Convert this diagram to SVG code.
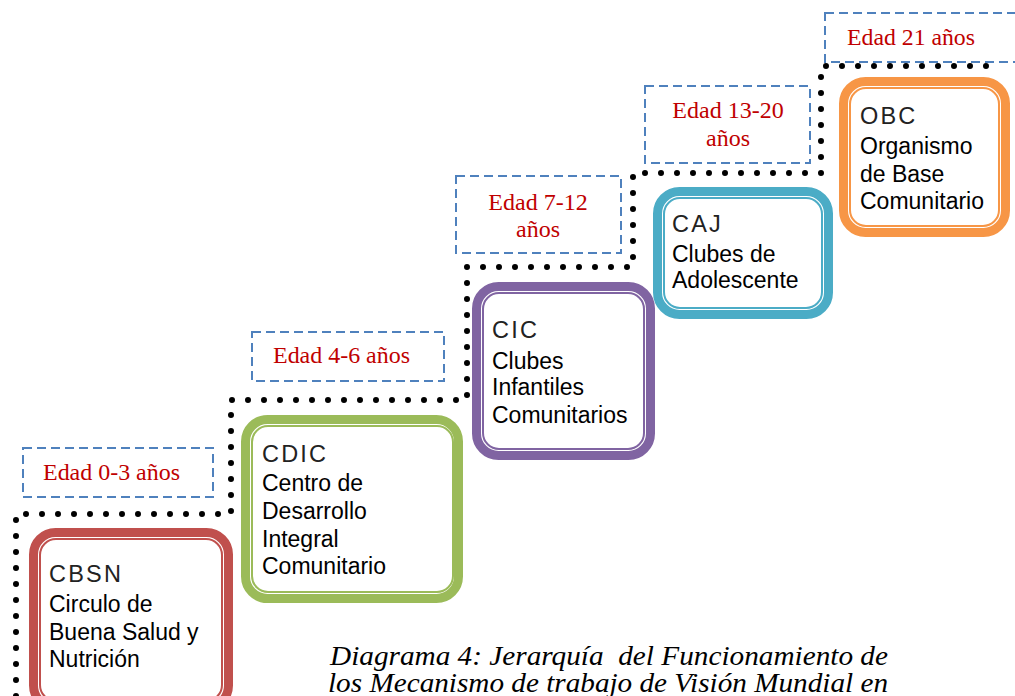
<svg xmlns="http://www.w3.org/2000/svg" width="1015" height="696" viewBox="0 0 1015 696">
<style>
.outer{fill:#fff;stroke-width:9}
.inner{fill:none;stroke-width:2}
.t{font-family:"Liberation Sans",Arial,sans-serif;font-size:23px;fill:#000}
.h{font-family:"Liberation Sans",Arial,sans-serif;font-size:23.5px;fill:#222;letter-spacing:2.2px}
.age{fill:none;stroke:#4F81BD;stroke-width:2;stroke-dasharray:9 5}
.at{font-family:"Liberation Serif","Times New Roman",serif;font-size:24px;fill:#C00000}
.cap{font-family:"Liberation Serif","Times New Roman",serif;font-style:italic;font-size:27px;fill:#000}
.dots{fill:none;stroke:#000;stroke-width:6;stroke-linecap:round;stroke-dasharray:0 16}
</style>
<rect width="1015" height="696" fill="#fff"/>
<g id="connectors">
<path class="dots" d="M16,696 V514 H231 V400 H467 V267 H633 V173 H821 V66 H1000"/>
</g>
<g id="age1">
<rect class="age" x="23" y="448" width="190" height="49"/>
<text class="at" x="43" y="480" textLength="137" lengthAdjust="spacingAndGlyphs">Edad 0-3 años</text>
</g>
<g id="age2">
<rect class="age" x="252" y="332" width="192" height="49"/>
<text class="at" x="273" y="363" textLength="137" lengthAdjust="spacingAndGlyphs">Edad 4-6 años</text>
</g>
<g id="age3">
<rect class="age" x="456" y="176" width="165" height="77"/>
<text class="at" x="538" y="210" text-anchor="middle">Edad 7-12</text>
<text class="at" x="538" y="237" text-anchor="middle">años</text>
</g>
<g id="age4">
<rect class="age" x="645" y="86" width="165" height="77"/>
<text class="at" x="728" y="118" text-anchor="middle">Edad 13-20</text>
<text class="at" x="728" y="146" text-anchor="middle">años</text>
</g>
<g id="age5">
<rect class="age" x="825" y="13" width="200" height="49"/>
<text class="at" x="847" y="45" textLength="128" lengthAdjust="spacingAndGlyphs">Edad 21 años</text>
</g>
<g id="cbsn">
<rect class="outer" x="33.5" y="532.5" width="195" height="175" rx="22" stroke="#C0504D"/>
<rect class="inner" x="40" y="539" width="182" height="162" rx="16" stroke="#C0504D"/>
<text class="h" x="49" y="582">CBSN</text>
<text class="t" x="49" y="612">Circulo de</text>
<text class="t" x="49" y="640">Buena Salud y</text>
<text class="t" x="49" y="667">Nutrición</text>
</g>
<g id="cdic">
<rect class="outer" x="245.5" y="419.5" width="213" height="179" rx="22" stroke="#9BBB59"/>
<rect class="inner" x="252" y="426" width="201" height="166" rx="16" stroke="#9BBB59"/>
<text class="h" x="262" y="462">CDIC</text>
<text class="t" x="262" y="491">Centro de</text>
<text class="t" x="262" y="519">Desarrollo</text>
<text class="t" x="262" y="547">Integral</text>
<text class="t" x="262" y="574">Comunitario</text>
</g>
<g id="cic">
<rect class="outer" x="476.5" y="286.5" width="174" height="169" rx="22" stroke="#8064A2"/>
<rect class="inner" x="483" y="293" width="161" height="156" rx="16" stroke="#8064A2"/>
<text class="h" x="492" y="338">CIC</text>
<text class="t" x="492" y="369">Clubes</text>
<text class="t" x="492" y="395">Infantiles</text>
<text class="t" x="492" y="423">Comunitarios</text>
</g>
<g id="caj">
<rect class="outer" x="657.5" y="191.5" width="171" height="123" rx="22" stroke="#4BACC6"/>
<rect class="inner" x="664" y="198" width="158" height="110" rx="16" stroke="#4BACC6"/>
<text class="h" x="672" y="232">CAJ</text>
<text class="t" x="672" y="262">Clubes de</text>
<text class="t" x="672" y="288">Adolescente</text>
</g>
<g id="obc">
<rect class="outer" x="843.5" y="81.5" width="162" height="151" rx="22" stroke="#F79646"/>
<rect class="inner" x="850" y="88" width="149" height="138" rx="16" stroke="#F79646"/>
<text class="h" x="860" y="124">OBC</text>
<text class="t" x="860" y="154">Organismo</text>
<text class="t" x="860" y="182">de Base</text>
<text class="t" x="860" y="209">Comunitario</text>
</g>
<g id="caption">
<text class="cap" x="330" y="665" textLength="558" lengthAdjust="spacingAndGlyphs" xml:space="preserve">Diagrama 4: Jerarquía  del Funcionamiento de</text>
<text class="cap" x="328" y="692" textLength="560" lengthAdjust="spacingAndGlyphs">los Mecanismo de trabajo de Visión Mundial en</text>
</g>
</svg>
